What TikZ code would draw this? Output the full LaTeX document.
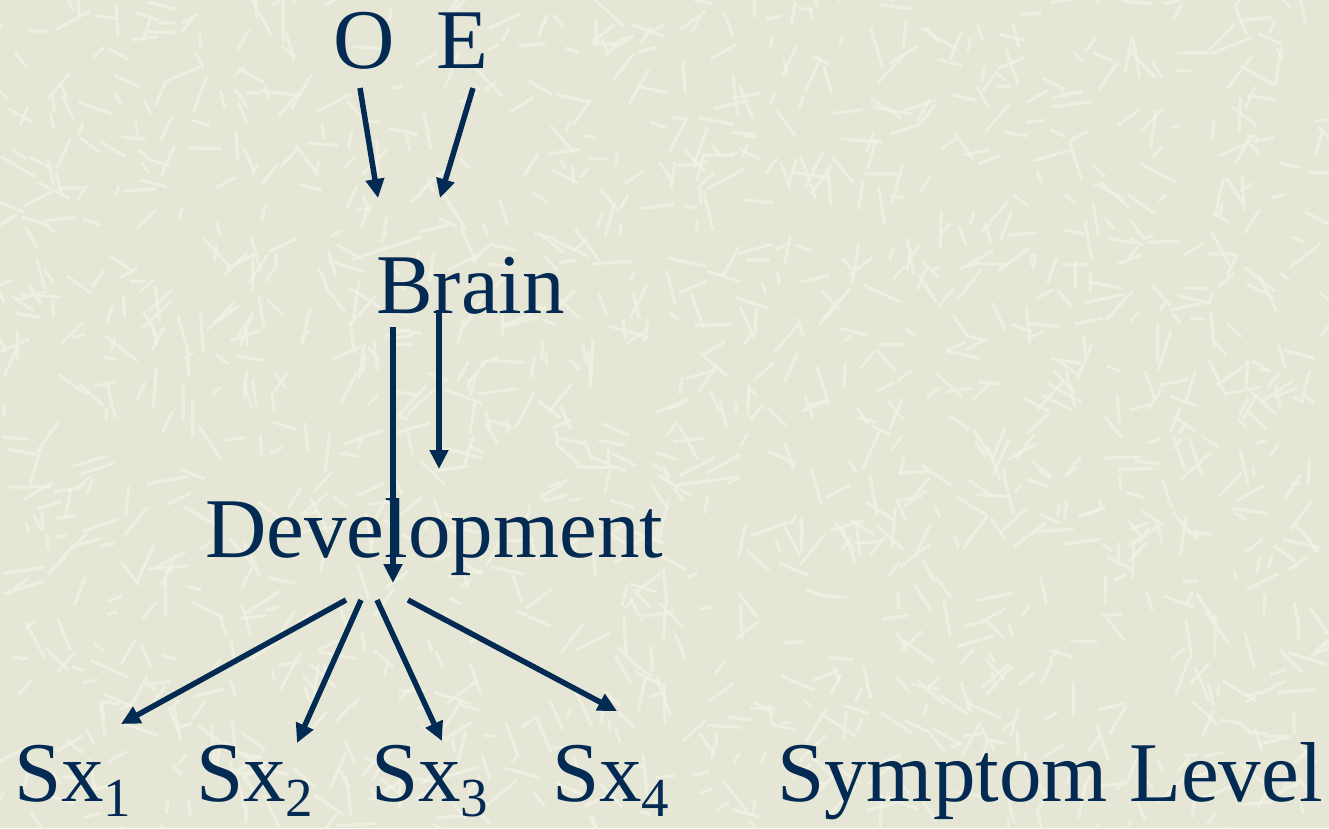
\documentclass[tikz,border=0pt]{standalone}
\usepackage{fontspec}
\setmainfont{Liberation Serif}
\usetikzlibrary{arrows.meta}
\definecolor{paper}{HTML}{E6E6D6}
\definecolor{fleck}{HTML}{F2F2E4}
\definecolor{ink}{HTML}{022A52}
\newcommand{\sxlabel}[1]{Sx\raisebox{-15pt}{\fontsize{55}{58}\selectfont #1}}
\begin{document}
\begin{tikzpicture}[x=1pt,y=-1pt,
  word/.style={inner sep=0pt,anchor=base west,text=ink,font=\fontsize{85}{90}\selectfont},
  link/.style={draw=ink,line width=5.5pt,-{Triangle[length=19pt,width=18pt]}}]
  % paper background with light fibre flecks
  \fill[paper] (0,0) rectangle (1329,828);
  \useasboundingbox (0,0) rectangle (1329,828);
  \pgfmathsetseed{4217}
  \begin{scope}
    \clip (0,0) rectangle (1329,828);
    \foreach \i in {1,...,1400}{
      \pgfmathsetmacro{\px}{rnd*1329}
      \pgfmathsetmacro{\py}{rnd*828}
      \pgfmathsetmacro{\pa}{rnd*360}
      \pgfmathsetmacro{\pl}{10+rnd*32}
      \draw[fleck,line width=3pt,opacity=0.8] (\px,\py) -- ++(\pa:\pl);
    }
  \end{scope}
  % labels
  \node[word] (o) at (333,68) {O};
  \node[word] (e) at (436,68) {E};
  \node[word] (brain) at (376,313) {Brain};
  \node[word] (dev) at (205,557) {Development};
  \node[word] (s1) at (14,801) {\sxlabel{1}};
  \node[word] (s2) at (196,801) {\sxlabel{2}};
  \node[word] (s3) at (371,801) {\sxlabel{3}};
  \node[word] (s4) at (552,801) {\sxlabel{4}};
  \node[word] (level) at (777,801) {Symptom Level};
  % arrow end points
  \coordinate (oA) at (360,88);   \coordinate (oB) at (378,198);
  \coordinate (eA) at (473,88);   \coordinate (eB) at (440,198);
  \coordinate (bA) at (393,327);  \coordinate (bB) at (393,583);
  \coordinate (cA) at (439,310);  \coordinate (cB) at (439,469);
  \coordinate (d1) at (346,600);  \coordinate (t1) at (121,724);
  \coordinate (d2) at (361,600);  \coordinate (t2) at (297,743);
  \coordinate (d3) at (377,600);  \coordinate (t3) at (442,741);
  \coordinate (d4) at (408,600);  \coordinate (t4) at (617,711);
  % connectors
  \draw[link] (oA) -- (oB);
  \draw[link] (eA) -- (eB);
  \draw[link] (bA) -- (bB);
  \draw[link] (cA) -- (cB);
  \draw[link] (d1) -- (t1);
  \draw[link] (d2) -- (t2);
  \draw[link] (d3) -- (t3);
  \draw[link] (d4) -- (t4);
\end{tikzpicture}
\end{document}
